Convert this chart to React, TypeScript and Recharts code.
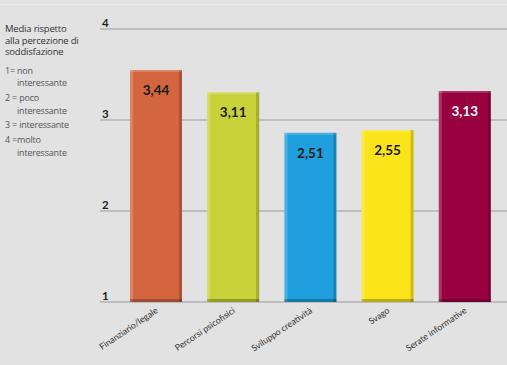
import React from 'react';
import { BarChart, Bar, XAxis, YAxis, CartesianGrid, Cell, LabelList } from 'recharts';

const categories = ['Finanziario/legale', 'Percorsi psicofisici', 'Sviluppo creatività', 'Svago', 'Serate informative'];
const values = [3.44, 3.11, 2.51, 2.55, 3.13];
const scaleTicks = [1, 2, 3, 4];
const titleLines = ['Media rispetto', 'alla percezione di', 'soddisfazione'];
const keyLines = ['1= non', 'interessante', '2 = poco', 'interessante', '3 = interessante', '4 =molto', 'interessante'];

const barColors = ['#d3663f', '#c9d138', '#1f9fdd', '#fce41a', '#990040'];
const labelColors = ['#1a1a1a', '#1a1a1a', '#1a1a1a', '#1a1a1a', '#ffffff'];

const data = categories.map((name, i) => ({ name, value: values[i] }));

const FONT = 'Lato, "Open Sans", sans-serif';
const KEY_FONT = '"Open Sans", Lato, sans-serif';

// bar with a bit of bevel like the print original
const BevelBar = (props: any) => {
  const { x, y, width, height, fill } = props;
  if (!height || height <= 0) return null;
  return (
    <g>
      <rect x={x} y={y} width={width} height={height} fill={fill} />
      <rect x={x} y={y} width={width} height={2} fill="#ffffff" opacity={0.18} />
      <rect x={x} y={y} width={3} height={height} fill="#ffffff" opacity={0.2} />
      <rect x={x + width - 3} y={y} width={3} height={height} fill="#000000" opacity={0.18} />
      <rect x={x} y={y + height - 3} width={width} height={3} fill="#000000" opacity={0.25} />
    </g>
  );
};

const ScaleTick = (props: any) => {
  const { x, y, payload } = props;
  return (
    <text x={x + 2} y={y - 2} fontSize={11.5} fontWeight={700} fill="#222" fontFamily={FONT}>
      {payload.value}
    </text>
  );
};

const CategoryTick = (props: any) => {
  const { x, y, payload } = props;
  return (
    <text
      x={x + 3}
      y={y + 10}
      textAnchor="end"
      fontSize={8.8}
      fill="#333"
      fontFamily={FONT}
      transform={`rotate(-34, ${x + 3}, ${y + 10})`}
    >
      {payload.value}
    </text>
  );
};

const ValueLabel = (props: any) => {
  const { x, y, width, value, index } = props;
  return (
    <text
      x={x + width / 2}
      y={y + 25}
      textAnchor="middle"
      fontSize={13.5}
      fontWeight={700}
      fill={labelColors[index]}
      fontFamily={FONT}
    >
      {String(value).replace('.', ',')}
    </text>
  );
};

const keyTops = [65.5, 78, 92.5, 105.5, 120, 134.5, 148];

const App: React.FC = () => {
  return (
    <div style={{ position: 'relative', width: 507, height: 365, background: '#e2e2e2', overflow: 'hidden', fontFamily: FONT }}>
      <style>{'body{margin:0}'}</style>
      <div style={{ position: 'absolute', left: 0, top: 4, width: 507, height: 1, background: '#ececec' }} />
      {titleLines.map((t, i) => (
        <div key={t} style={{ position: 'absolute', left: 5, top: 23 + i * 11.5, fontSize: 9.5, lineHeight: '11px', color: '#333', whiteSpace: 'nowrap', fontFamily: KEY_FONT, letterSpacing: -0.2 }}>
          {t}
        </div>
      ))}
      {keyLines.map((t, i) => (
        <div
          key={i}
          style={{
            position: 'absolute',
            left: t === 'interessante' ? 17 : 5,
            top: keyTops[i],
            fontSize: 9,
            lineHeight: '9px',
            color: '#555',
            whiteSpace: 'nowrap',
            fontFamily: KEY_FONT,
            letterSpacing: -0.2,
          }}
        >
          {t}
        </div>
      ))}
      <BarChart
        width={507}
        height={365}
        data={data}
        margin={{ top: 29, right: 0, bottom: 62, left: 99 }}
        style={{ position: 'absolute', left: 0, top: 0 }}
      >
        <CartesianGrid horizontal vertical={false} stroke="#9a9a9a" strokeWidth={1} />
        <XAxis
          dataKey="name"
          height={1}
          padding={{ left: 17, right: 4 }}
          axisLine={false}
          tickLine={false}
          tickSize={0}
          tickMargin={0}
          interval={0}
          tick={<CategoryTick />}
        />
        <YAxis
          domain={[1, 4]}
          ticks={scaleTicks}
          type="number"
          allowDataOverflow
          width={1}
          axisLine={false}
          tickLine={false}
          tickSize={0}
          tickMargin={0}
          tick={<ScaleTick />}
        />
        <YAxis yAxisId="bars" domain={[0, 4.05]} hide />
        <Bar yAxisId="bars" dataKey="value" barSize={52} shape={<BevelBar />} isAnimationActive={false}>
          {data.map((d, i) => (
            <Cell key={d.name} fill={barColors[i]} />
          ))}
          <LabelList dataKey="value" content={<ValueLabel />} />
        </Bar>
      </BarChart>
    </div>
  );
};

export default App;
